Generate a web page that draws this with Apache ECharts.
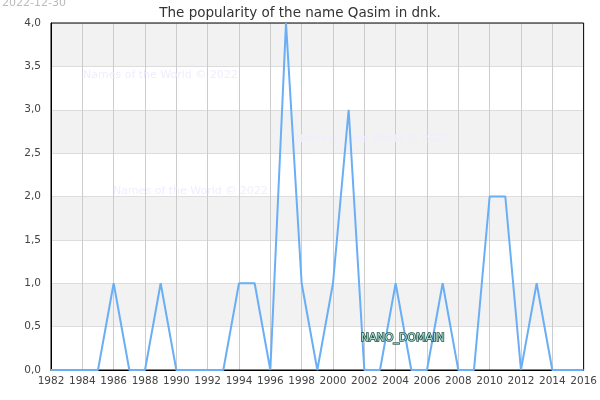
<!DOCTYPE html>
<html>
<head>
<meta charset="utf-8">
<script src="https://cdn.jsdelivr.net/npm/echarts@6/dist/echarts.min.js"></script>
<style>
  html, body { margin: 0; padding: 0; background: #fff; }
  #chart { width: 600px; height: 400px; }
</style>
</head>
<body>
<div id="chart"></div>
<script>
// popularity of the name per year
const years = [1982, 1983, 1984, 1985, 1986, 1987, 1988, 1989, 1990, 1991, 1992, 1993,
  1994, 1995, 1996, 1997, 1998, 1999, 2000, 2001, 2002, 2003, 2004, 2005, 2006, 2007,
  2008, 2009, 2010, 2011, 2012, 2013, 2014, 2015, 2016]
const counts = [0, 0, 0, 0, 1, 0, 0, 1, 0, 0, 0, 0,
  1, 1, 0, 4, 1, 0, 1, 3, 0, 0, 1, 0, 0, 1,
  0, 0, 2, 2, 0, 1, 0, 0, 0]

const font = 'DejaVu Sans'
const chart = echarts.init(document.getElementById('chart'))

chart.setOption({
  animation: false,
  title: {
    text: 'The popularity of the name Qasim in dnk.',
    left: 'center',
    top: 1,
    textStyle: { fontFamily: font, fontSize: 13.5, fontWeight: 'normal', color: '#333' }
  },
  grid: {
    left: 51, right: 14, top: 23, bottom: 30,
    show: true, z: 3, borderColor: '#000', borderWidth: 1, backgroundColor: 'transparent'
  },
  xAxis: {
    type: 'value',
    min: 1982,
    max: 2016,
    interval: 2,
    axisLine: { show: true, onZero: false, lineStyle: { color: '#000' } },
    axisTick: { show: false },
    axisLabel: {
      fontFamily: font, fontSize: 10.5, color: '#444', margin: 6,
      showMinLabel: true, showMaxLabel: true,
      formatter: v => String(v)
    },
    splitLine: { show: true, lineStyle: { color: '#cccccc', width: 1 } }
  },
  yAxis: {
    type: 'value',
    min: 0,
    max: 4,
    interval: 0.5,
    axisLine: { show: true, onZero: false, lineStyle: { color: '#000' } },
    axisTick: { show: false },
    axisLabel: {
      fontFamily: font, fontSize: 10.5, color: '#444', margin: 10,
      formatter: v => v.toFixed(1).replace('.', ',')
    },
    splitLine: { show: true, lineStyle: { color: '#dddddd', width: 1 } },
    splitArea: { show: true, areaStyle: { color: ['#ffffff', '#f2f2f2'] } }
  },
  graphic: [
    { type: 'text', left: 2, top: -2, style: { text: '2022-12-30', fontFamily: font, fontSize: 11, fill: '#bbbbbb' } },
    { type: 'text', left: 83, top: 70, style: { text: 'Names of the World © 2022', fontFamily: font, fontSize: 11, fill: '#eeeeff' }, z: 1 },
    { type: 'text', left: 113, top: 186, style: { text: 'Names of the World © 2022', fontFamily: font, fontSize: 11, fill: '#eeeeff' }, z: 1 },
    { type: 'text', left: 295, top: 134, style: { text: 'Names of the World © 2022', fontFamily: font, fontSize: 11, fill: '#eeeeff' }, z: 1 },
    { type: 'text', left: 360, top: 332, style: { text: 'NANO_DOMAIN', fontFamily: font, fontSize: 11, fill: '#a8dccf', stroke: '#1f4f46', lineWidth: 1.5 }, z: 10 }
  ],
  series: [{
    type: 'line',
    data: years.map((y, i) => [y, counts[i]]),
    showSymbol: false,
    lineStyle: { color: '#6aaef5', width: 2 },
    z: 5
  }]
})
</script>
</body>
</html>
